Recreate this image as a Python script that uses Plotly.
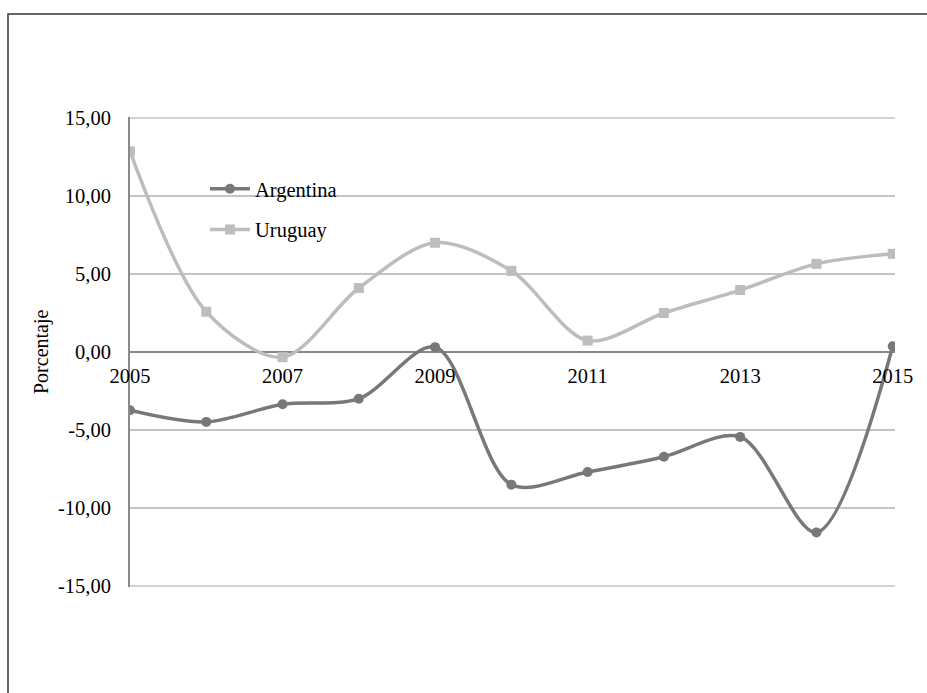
import plotly.graph_objects as go

years = list(range(2005, 2016))
argentina = [-3.73, -4.48, -3.35, -2.99, 0.31, -8.50, -7.69, -6.71, -5.44, -11.56, 0.37]
uruguay = [12.86, 2.58, -0.33, 4.10, 7.00, 5.20, 0.73, 2.50, 3.97, 5.65, 6.29]

x_ticks = [2005, 2007, 2009, 2011, 2013, 2015]
y_ticks = [15, 10, 5, 0, -5, -10, -15]
y_tick_text = ["15,00", "10,00", "5,00", "0,00", "-5,00", "-10,00", "-15,00"]

W, H = 927, 693
L, R, T, B = 130, 32, 117, 106
pw, ph = W - L - R, H - T - B

font_family = "Liberation Serif, Times New Roman, serif"
fs = 20.5
grid_color = "#c4c4c4"

fig = go.Figure()
fig.add_trace(go.Scatter(
    x=years, y=argentina, name="Argentina", mode="lines+markers",
    line=dict(color="#787878", width=3.5, shape="spline", smoothing=0.9),
    marker=dict(symbol="circle", size=10, color="#787878"),
    legendgroup="a",
))
fig.add_trace(go.Scatter(
    x=years, y=uruguay, name="Uruguay", mode="lines+markers",
    line=dict(color="#bdbdbd", width=3.5, shape="spline", smoothing=0.9),
    marker=dict(symbol="square", size=10, color="#bdbdbd"),
    legendgroup="u",
))

# gridlines at the two ends of the value range
edge_lines = [
    dict(type="line", xref="paper", yref="y", x0=0, x1=1, y0=v, y1=v,
         line=dict(color=grid_color, width=1.5), layer="below")
    for v in (max(y_ticks), min(y_ticks))
]

frame = dict(
    type="rect", xref="paper", yref="paper",
    x0=(8 - L) / pw, x1=(W + 20 - L) / pw,
    y0=-(B + 20) / ph, y1=1 + (T - 14) / ph,
    line=dict(color="#333333", width=1.5), layer="below",
)

fig.update_layout(
    width=W, height=H,
    margin=dict(l=L, r=R, t=T, b=B),
    paper_bgcolor="white", plot_bgcolor="white",
    font=dict(family=font_family, size=fs, color="black"),
    showlegend=True,
    legend=dict(
        x=(205 - L) / pw, y=1 - (169 - T) / ph, xanchor="left", yanchor="top",
        bgcolor="rgba(0,0,0,0)", traceorder="grouped", tracegroupgap=11,
        itemwidth=40,
        font=dict(family=font_family, size=fs, color="black"),
    ),
    xaxis=dict(
        range=[2005, 2015.03], tickmode="array", tickvals=x_ticks,
        showgrid=False, zeroline=False, showline=False, ticks="",
        anchor="free", position=0.5, tickfont=dict(size=fs),
        ticklabelstandoff=9,
    ),
    yaxis=dict(
        range=[-15.06, 15.06], tickmode="array", tickvals=y_ticks, ticktext=y_tick_text,
        showgrid=True, gridcolor=grid_color, gridwidth=1.5,
        zeroline=True, zerolinecolor="#868686", zerolinewidth=2,
        showline=True, linecolor="#8a8a8a", linewidth=2,
        ticks="", ticklabelstandoff=13, tickfont=dict(size=fs),
    ),
    annotations=[dict(
        text="Porcentaje", textangle=-90, xref="paper", yref="paper",
        x=(41 - L) / pw, y=0.5, xanchor="center", yanchor="middle",
        showarrow=False,
        font=dict(family=font_family, size=20, color="black"),
    )],
    shapes=[frame] + edge_lines,
)

fig.write_html("out.html")
